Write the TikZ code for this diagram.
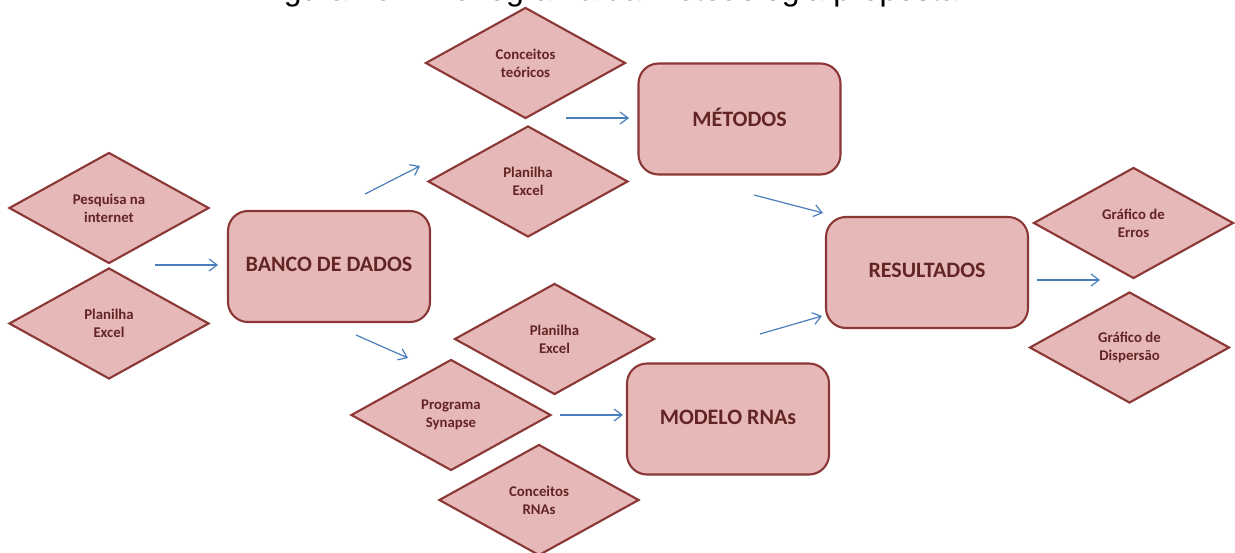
\documentclass[tikz,border=0pt]{standalone}
\usepackage{fontspec}
\setmainfont{Carlito}
\newfontfamily\captionfont{Liberation Sans}
\usetikzlibrary{shapes.geometric,arrows.meta}

\definecolor{boxfill}{HTML}{E6B9B8}
\definecolor{boxline}{HTML}{8A3735}
\definecolor{boxtext}{HTML}{632523}
\definecolor{arrowblue}{HTML}{4A7EBB}

\tikzset{
  source/.style={diamond, draw=boxline, fill=boxfill, line width=2.1pt,
    minimum width=200pt, minimum height=111pt, aspect=1.8, inner sep=0pt,
    align=center, text=boxtext, font=\fontsize{14.8}{18}\selectfont\bfseries},
  stage/.style={rectangle, rounded corners=20pt, draw=boxline, fill=boxfill,
    line width=2.1pt, minimum width=202pt, minimum height=111pt,
    text depth=4pt, text=boxtext, font=\fontsize{22}{26}\selectfont\bfseries},
  flow/.style={draw=arrowblue, line width=1.2pt,
    -{Straight Barb[length=8pt,width=12pt]}},
}

\begin{document}
\begin{tikzpicture}[x=1pt,y=-1pt]
\useasboundingbox (0,0) rectangle (1235,553);

% caption above the chart, running off the top edge
\node[anchor=base west, inner sep=0pt, font=\captionfont\fontsize{32}{36}\selectfont]
  (caption) at (257,1) {Figura 10 – Fluxograma da metodologia proposta};

% inputs of the database
\node[source] (internet) at (109,208)   {Pesquisa na\\internet};
\node[source] (excelA)   at (109,323.5) {Planilha\\Excel};
\node[stage]  (banco)    at (329,266.5) {BANCO DE DADOS};

% method branch
\node[source] (teoricos) at (525.5,63)  {Conceitos\\teóricos};
\node[source] (excelB)   at (528,181.5) {Planilha\\Excel};
\node[stage]  (metodos)  at (739.5,119) {MÉTODOS};

% neural network branch
\node[source] (excelC)   at (554.5,339) {Planilha\\Excel};
\node[source] (synapse)  at (451,415)   {Programa\\Synapse};
\node[source] (rnas)     at (539,500)   {Conceitos\\RNAs};
\node[stage]  (modelo)   at (728,419)   {MODELO RNAs};

% results
\node[stage]  (result)   at (927,272.5)  {RESULTADOS};
\node[source] (erros)    at (1133.5,223) {Gráfico de\\Erros};
\node[source] (disp)     at (1129.5,347.5) {Gráfico de\\Dispersão};

% arrow end points
\coordinate (a1s) at (155,265);  \coordinate (a1e) at (218,265);
\coordinate (a2s) at (365,194);  \coordinate (a2e) at (420,166);
\coordinate (a3s) at (356,335);  \coordinate (a3e) at (408,358);
\coordinate (a4s) at (566,118);  \coordinate (a4e) at (629,118);
\coordinate (a5s) at (754,195);  \coordinate (a5e) at (823,213);
\coordinate (a6s) at (760,334);  \coordinate (a6e) at (822,316);
\coordinate (a7s) at (560,415);  \coordinate (a7e) at (623,415);
\coordinate (a8s) at (1037,280); \coordinate (a8e) at (1100,280);

\draw[flow] (a1s) -- (a1e);
\draw[flow] (a2s) -- (a2e);
\draw[flow] (a3s) -- (a3e);
\draw[flow] (a4s) -- (a4e);
\draw[flow] (a5s) -- (a5e);
\draw[flow] (a6s) -- (a6e);
\draw[flow] (a7s) -- (a7e);
\draw[flow] (a8s) -- (a8e);
\end{tikzpicture}
\end{document}
